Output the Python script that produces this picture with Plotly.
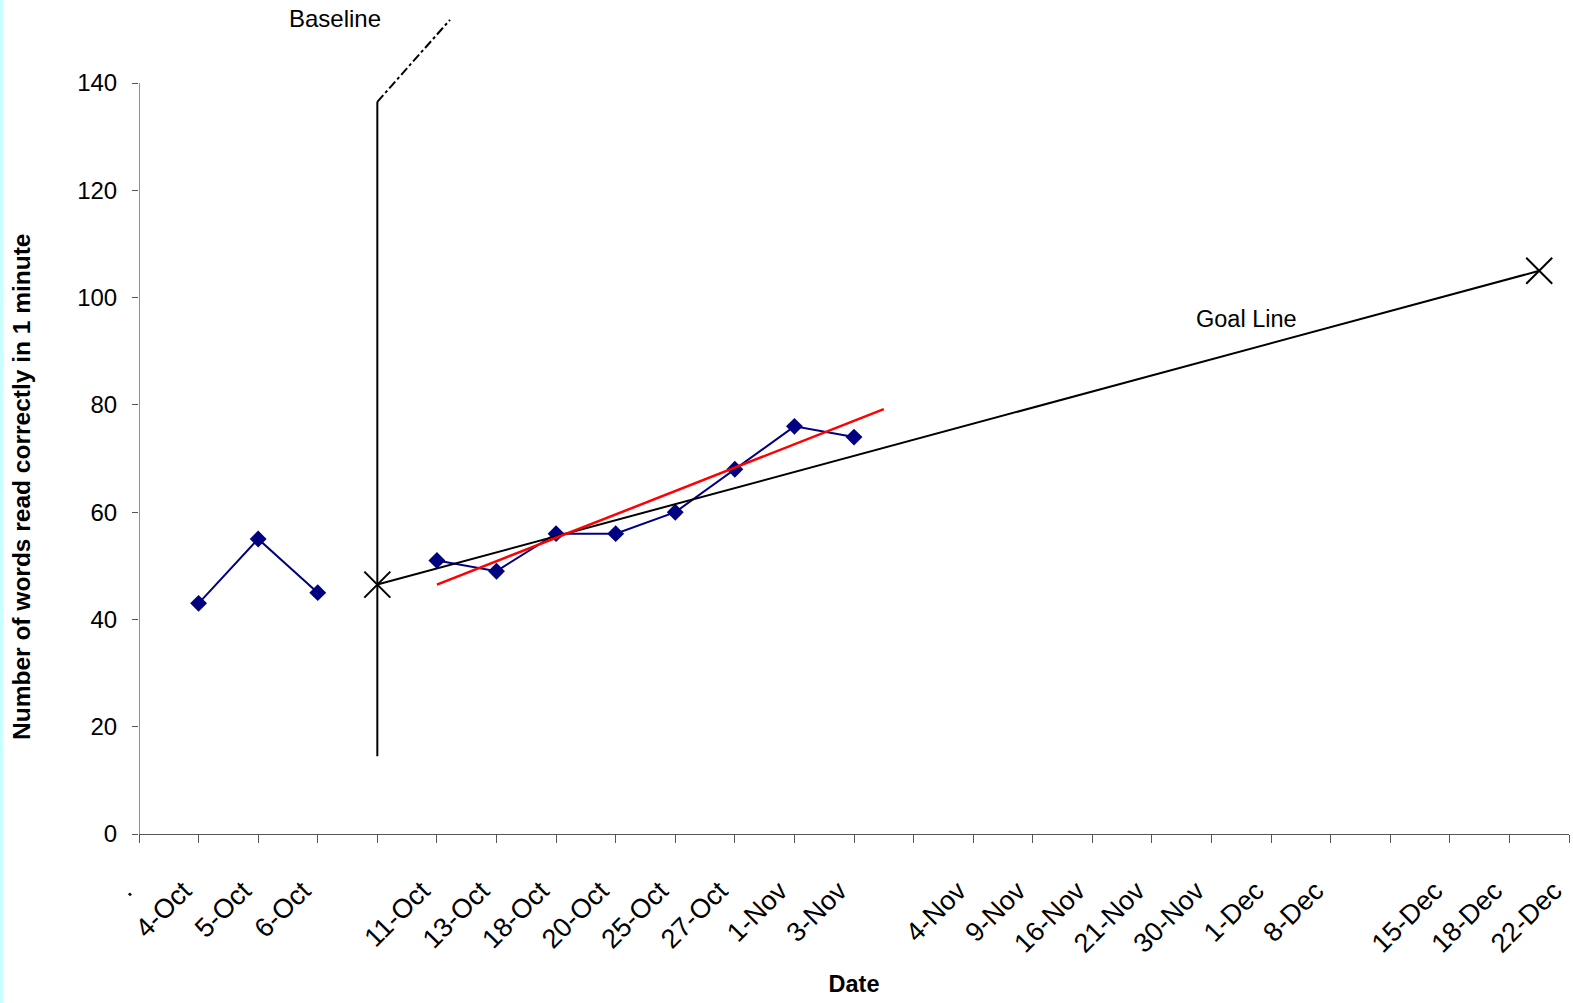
import plotly.graph_objects as go

# ---- data ----
categories = [".", "4-Oct", "5-Oct", "6-Oct", "", "11-Oct", "13-Oct", "18-Oct", "20-Oct",
              "25-Oct", "27-Oct", "1-Nov", "3-Nov", "", "4-Nov", "9-Nov", "16-Nov",
              "21-Nov", "30-Nov", "1-Dec", "8-Dec", "", "15-Dec", "18-Dec", "22-Dec"]
cat_pos = list(range(len(categories)))

baseline_x = [1, 2, 3]
baseline_y = [43, 55, 45]

inter_x = [5, 6, 7, 8, 9, 10, 11, 12]
inter_y = [51, 49, 56, 56, 60, 68, 76, 74]

trend_x = [5, 12.5]
trend_y = [46.5, 79.2]

goal_x = [4, 23.5]
goal_y = [46.5, 105]

phase_x = [4, 4]
phase_y = [14.5, 136.5]
phase_ext_x = [4, 5.22]
phase_ext_y = [136.5, 151.8]

y_ticks = [0, 20, 40, 60, 80, 100, 120, 140]

FONT = "Liberation Sans, Arial, sans-serif"
NAVY = "#000080"

fig = go.Figure()

fig.add_trace(go.Scatter(x=baseline_x, y=baseline_y, mode="lines+markers",
                         line=dict(color=NAVY, width=2),
                         marker=dict(symbol="diamond", size=13, color=NAVY),
                         showlegend=False, hoverinfo="skip"))
fig.add_trace(go.Scatter(x=inter_x, y=inter_y, mode="lines+markers",
                         line=dict(color=NAVY, width=2),
                         marker=dict(symbol="diamond", size=13, color=NAVY),
                         showlegend=False, hoverinfo="skip"))
fig.add_trace(go.Scatter(x=phase_x, y=phase_y, mode="lines",
                         line=dict(color="black", width=2),
                         showlegend=False, hoverinfo="skip"))
fig.add_trace(go.Scatter(x=phase_ext_x, y=phase_ext_y, mode="lines",
                         line=dict(color="black", width=2, dash="dashdot"),
                         showlegend=False, hoverinfo="skip"))
fig.add_trace(go.Scatter(x=goal_x, y=goal_y, mode="lines+markers",
                         line=dict(color="black", width=2),
                         marker=dict(symbol="x-thin", size=26,
                                     line=dict(color="black", width=2)),
                         cliponaxis=False,
                         showlegend=False, hoverinfo="skip"))
fig.add_trace(go.Scatter(x=trend_x, y=trend_y, mode="lines",
                         line=dict(color="#ff0000", width=2.5),
                         showlegend=False, hoverinfo="skip"))

# y-axis line only up to 140
fig.add_shape(type="line", xref="x", yref="y", x0=0, x1=0, y0=0, y1=y_ticks[-1],
              line=dict(color="#555555", width=1.3), layer="above")

# left cyan edge
fig.add_shape(type="rect", xref="paper", yref="paper",
              x0=-139 / 1430, x1=-136 / 1430, y0=-169 / 826, y1=1 + 8 / 826,
              fillcolor="#c8ffff", line=dict(width=0), layer="below")

fig.add_annotation(x=3.29, y=152.1, text="Baseline", showarrow=False,
                   font=dict(family=FONT, size=24, color="black"))
fig.add_annotation(x=18.58, y=96, text="Goal Line", showarrow=False,
                   font=dict(family=FONT, size=23.5, color="black"))
# y-axis title
fig.add_annotation(xref="paper", yref="y", x=-117 / 1430, y=64.7,
                   text="<b>Number of words read correctly in 1 minute</b>",
                   textangle=-90, showarrow=False, xanchor="center", yanchor="middle",
                   font=dict(family=FONT, size=24.5, color="black"))

fig.update_layout(
    width=1573, height=1003,
    margin=dict(l=139, r=4, t=8, b=169, pad=0),
    paper_bgcolor="white", plot_bgcolor="white",
    font=dict(family=FONT, size=24, color="black"),
    xaxis=dict(range=[0, 24], tickmode="array", tickvals=cat_pos, ticktext=categories,
               tickangle=-45, ticks="outside", ticklen=8, tickcolor="#555555",
               showline=True, linecolor="#555555", linewidth=1.3,
               showgrid=False, zeroline=False,
               ticklabelstandoff=21, ticklabelshift=-15,
               ticklabeloverflow="allow",
               tickfont=dict(family=FONT, size=27),
               title=dict(text="<b>Date</b>", font=dict(family=FONT, size=23.5), standoff=18)),
    yaxis=dict(range=[0, 154], tickmode="array", tickvals=y_ticks,
               ticks="outside", ticklen=6, tickcolor="#555555",
               showline=False, showgrid=False, zeroline=False,
               ticklabelstandoff=10,
               tickfont=dict(family=FONT, size=24)),
)

fig.write_html("out.html")
